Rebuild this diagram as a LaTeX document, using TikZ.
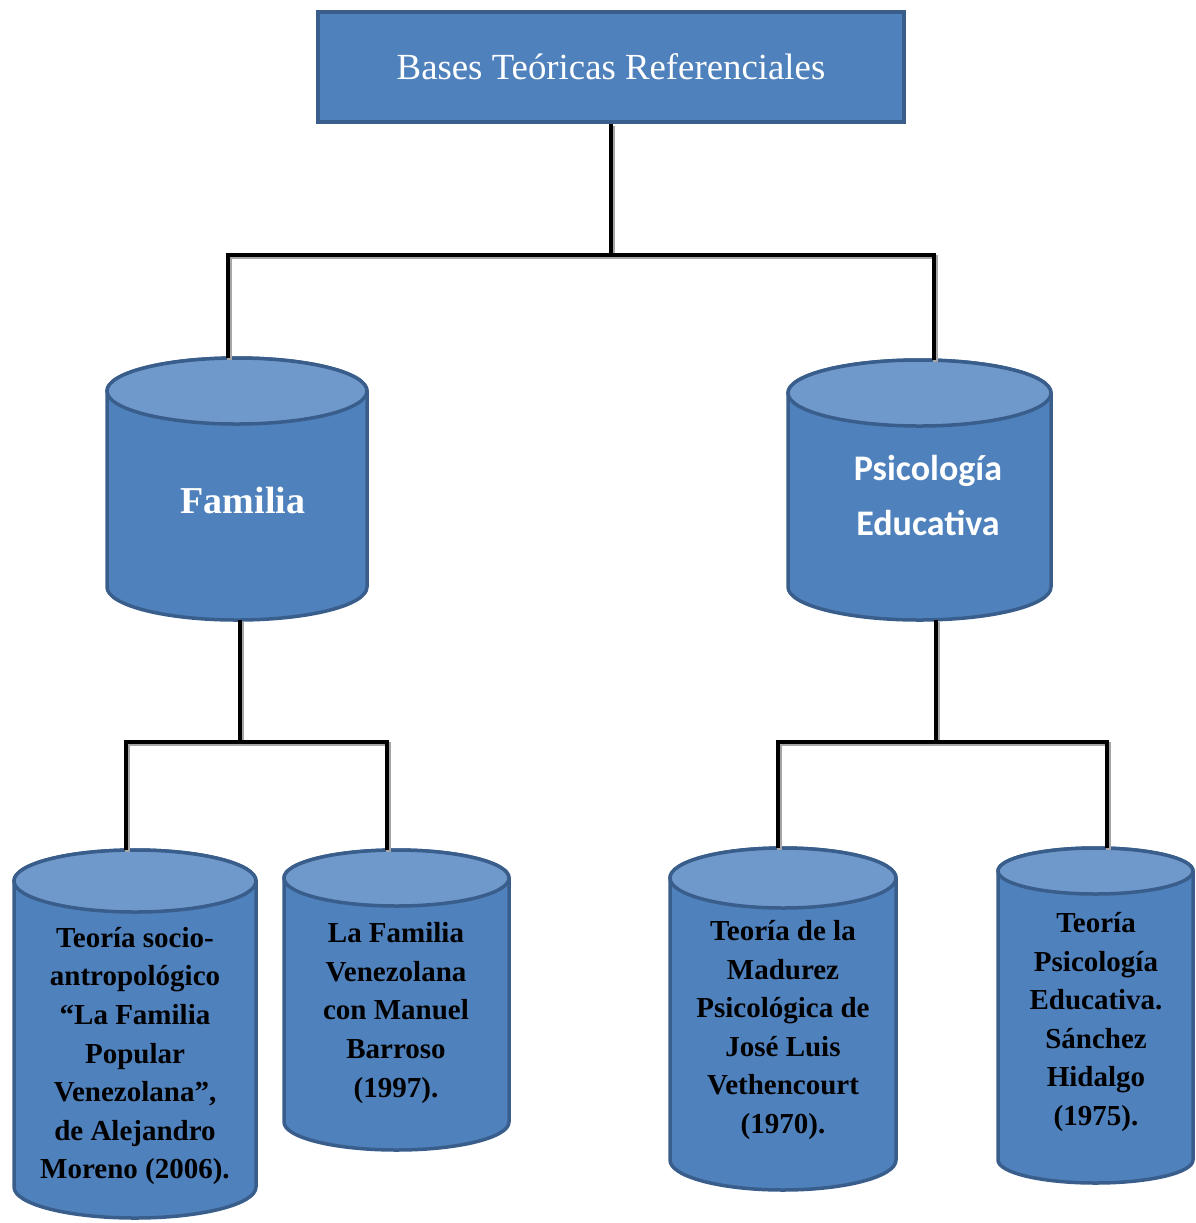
\documentclass[tikz,border=0pt]{standalone}
\usepackage{fontspec}
\setmainfont{Liberation Serif}
\newfontfamily\calibri{Carlito}
\usepackage{tikz}
\definecolor{drumblue}{HTML}{4F81BD}
\definecolor{drumlight}{HTML}{7099CB}
\definecolor{drumedge}{HTML}{3A5E8C}
% cylinder: name, cx, cy, half width, half height, end radius (px units)
\newcommand{\drum}[6]{%
	\draw[drumbody] ({#2-#4},{#3-#5+#6}) -- ({#2-#4},{#3+#5-#6})
		arc[start angle=180, end angle=0, x radius=#4, y radius=#6]
		-- ({#2+#4},{#3-#5+#6})
		arc[start angle=0, end angle=-180, x radius=#4, y radius=#6] -- cycle;
	\draw[drumtop] (#2,{#3-#5+#6}) ellipse[x radius=#4, y radius=#6];
	\node[inner sep=0pt, minimum width=#4pt, minimum height=#5pt] (#1) at (#2,#3) {};
}

\begin{document}
\begin{tikzpicture}[x=0.5pt,y=-0.5pt,
		drumbody/.style={fill=drumblue, draw=drumedge, line width=1.75pt},
		drumtop/.style={fill=drumlight, draw=drumedge, line width=1.75pt},
		titlebox/.style={rectangle, fill=drumblue, draw=drumedge, line width=2pt,
			minimum width=293pt, minimum height=55pt, text=white,
			font=\fontsize{18.4}{21}\selectfont},
		famtext/.style={text=white, font=\bfseries\fontsize{19}{23}\selectfont},
		psitext/.style={text=white, align=center, font=\calibri\bfseries\fontsize{18}{27.5}\selectfont},
		leaftext/.style={text=black, align=center, font=\bfseries\fontsize{14.5}{19.3}\selectfont},
		link/.style={line width=2.2pt, black,
			preaction={draw=black!35, line width=2.2pt, transform canvas={shift={(0.8pt,-1pt)}}}}]
	\useasboundingbox (0,0) rectangle (1196,1223);

	\node[titlebox] (top) at (611,67) {Bases Teóricas Referenciales};

	\drum{fam}{237}{489}{130}{131}{33}
	\drum{psi}{919.5}{490}{131.5}{130}{33}
	\drum{l1}{135}{1034}{121}{184}{31}
	\drum{l2}{396.5}{1000}{112.5}{150}{28}
	\drum{l3}{783}{1019}{113}{171}{30}
	\drum{l4}{1095.5}{1015.5}{97.5}{167.5}{23}

	\node[famtext] (famtxt) at (243,500) {Familia};
	\node[psitext] (psitxt) at (928,495) {Psicología\\Educativa};
	\node[leaftext] (l1txt) at (135,1056) {Teoría socio-\\antropológico\\“La Familia\\Popular\\Venezolana”,\\de Alejandro\\Moreno (2006).};
	\node[leaftext] (l2txt) at (396,1013) {La Familia\\Venezolana\\con Manuel\\Barroso\\(1997).};
	\node[leaftext] (l3txt) at (783,1030) {Teoría de la\\Madurez\\Psicológica de\\José Luis\\Vethencourt\\(1970).};
	\node[leaftext] (l4txt) at (1096,1022) {Teoría\\Psicología\\Educativa.\\Sánchez\\Hidalgo\\(1975).};

	% joints
	\coordinate (j0) at (611,255);
	\coordinate (b1) at (228,255);
	\coordinate (b2) at (934,255);
	\coordinate (cj) at (240,742);
	\coordinate (c1) at (126,742);
	\coordinate (c2) at (387,742);
	\coordinate (dj) at (936,742);
	\coordinate (d1) at (778,742);
	\coordinate (d2) at (1107,742);

	\draw[link] (top.south) -- (j0);
	\draw[link] (fam.north -| b1) -- (b1) -- (b2) -- (psi.north -| b2);
	\draw[link] (fam.south -| cj) -- (cj);
	\draw[link] (l1.north -| c1) -- (c1) -- (c2) -- (l2.north -| c2);
	\draw[link] (psi.south -| dj) -- (dj);
	\draw[link] (l3.north -| d1) -- (d1) -- (d2) -- (l4.north -| d2);
\end{tikzpicture}
\end{document}
